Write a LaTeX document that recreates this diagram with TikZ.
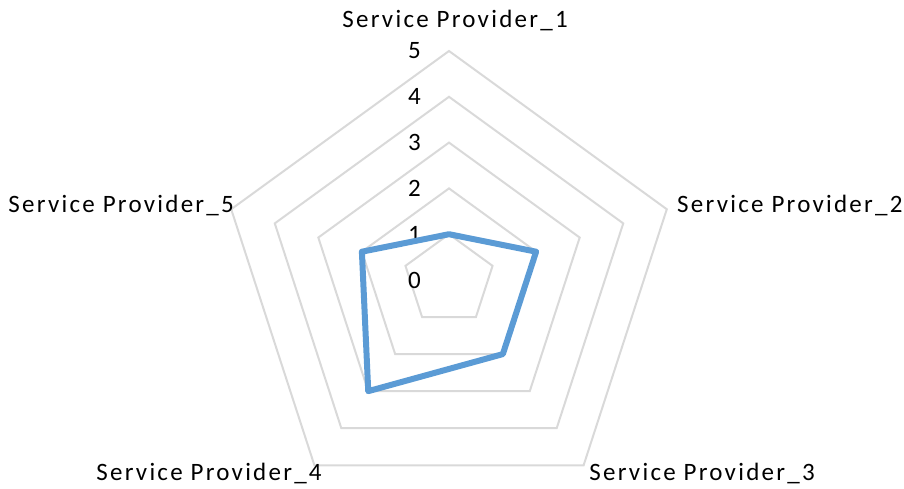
\documentclass[tikz,border=0pt]{standalone}
\usepackage{fontspec}
\usetikzlibrary{calc}
\setmainfont[LetterSpace=9]{Carlito}
\definecolor{serblue}{HTML}{5B9BD5}
\definecolor{gridgray}{HTML}{D9D9D9}
\begin{document}
\begin{tikzpicture}[x=1pt,y=1pt,
  grid/.style={draw=gridgray, line width=2pt},
  series/.style={draw=serblue, line width=6pt, line join=round},
  axlabel/.style={font=\fontsize{25}{30}\selectfont, inner sep=0pt},
  lvl/.style={font=\fontsize{25}{30}\selectfont, inner sep=0pt, anchor=east}]
\path[use as bounding box] (0,0) rectangle (904,488);
\coordinate (C) at (449,208);
\def\unitr{45.8}
% grid pentagons
\foreach \k in {1,...,5}{
  \draw[grid] ($(C)+(90:\k*\unitr)$) -- ($(C)+(18:\k*\unitr)$) -- ($(C)+(-54:\k*\unitr)$) -- ($(C)+(-126:\k*\unitr)$) -- ($(C)+(162:\k*\unitr)$) -- cycle;
}
% level labels
\foreach \k in {0,...,5}{
  \node[lvl] (l\k) at ($(C)+(-28,\k*\unitr)$) {\k};
}
% axis labels
\node[axlabel] (a1) at (455,467) {Service Provider\_1};
\node[axlabel, anchor=west] (a2) at (677,283) {Service Provider\_2};
\node[axlabel] (a3) at (702,15) {Service Provider\_3};
\node[axlabel] (a4) at (209,15) {Service Provider\_4};
\node[axlabel, anchor=east] (a5) at (234,283) {Service Provider\_5};
% data
\coordinate (d1) at ($(C)+(90:1*\unitr)$);
\coordinate (d2) at ($(C)+(18:2*\unitr)$);
\coordinate (d3) at ($(C)+(-54:2*\unitr)$);
\coordinate (d4) at ($(C)+(-126:3*\unitr)$);
\coordinate (d5) at ($(C)+(162:2*\unitr)$);
\draw[series] (d1) -- (d2) -- (d3) -- (d4) -- (d5) -- cycle;
\end{tikzpicture}
\end{document}
